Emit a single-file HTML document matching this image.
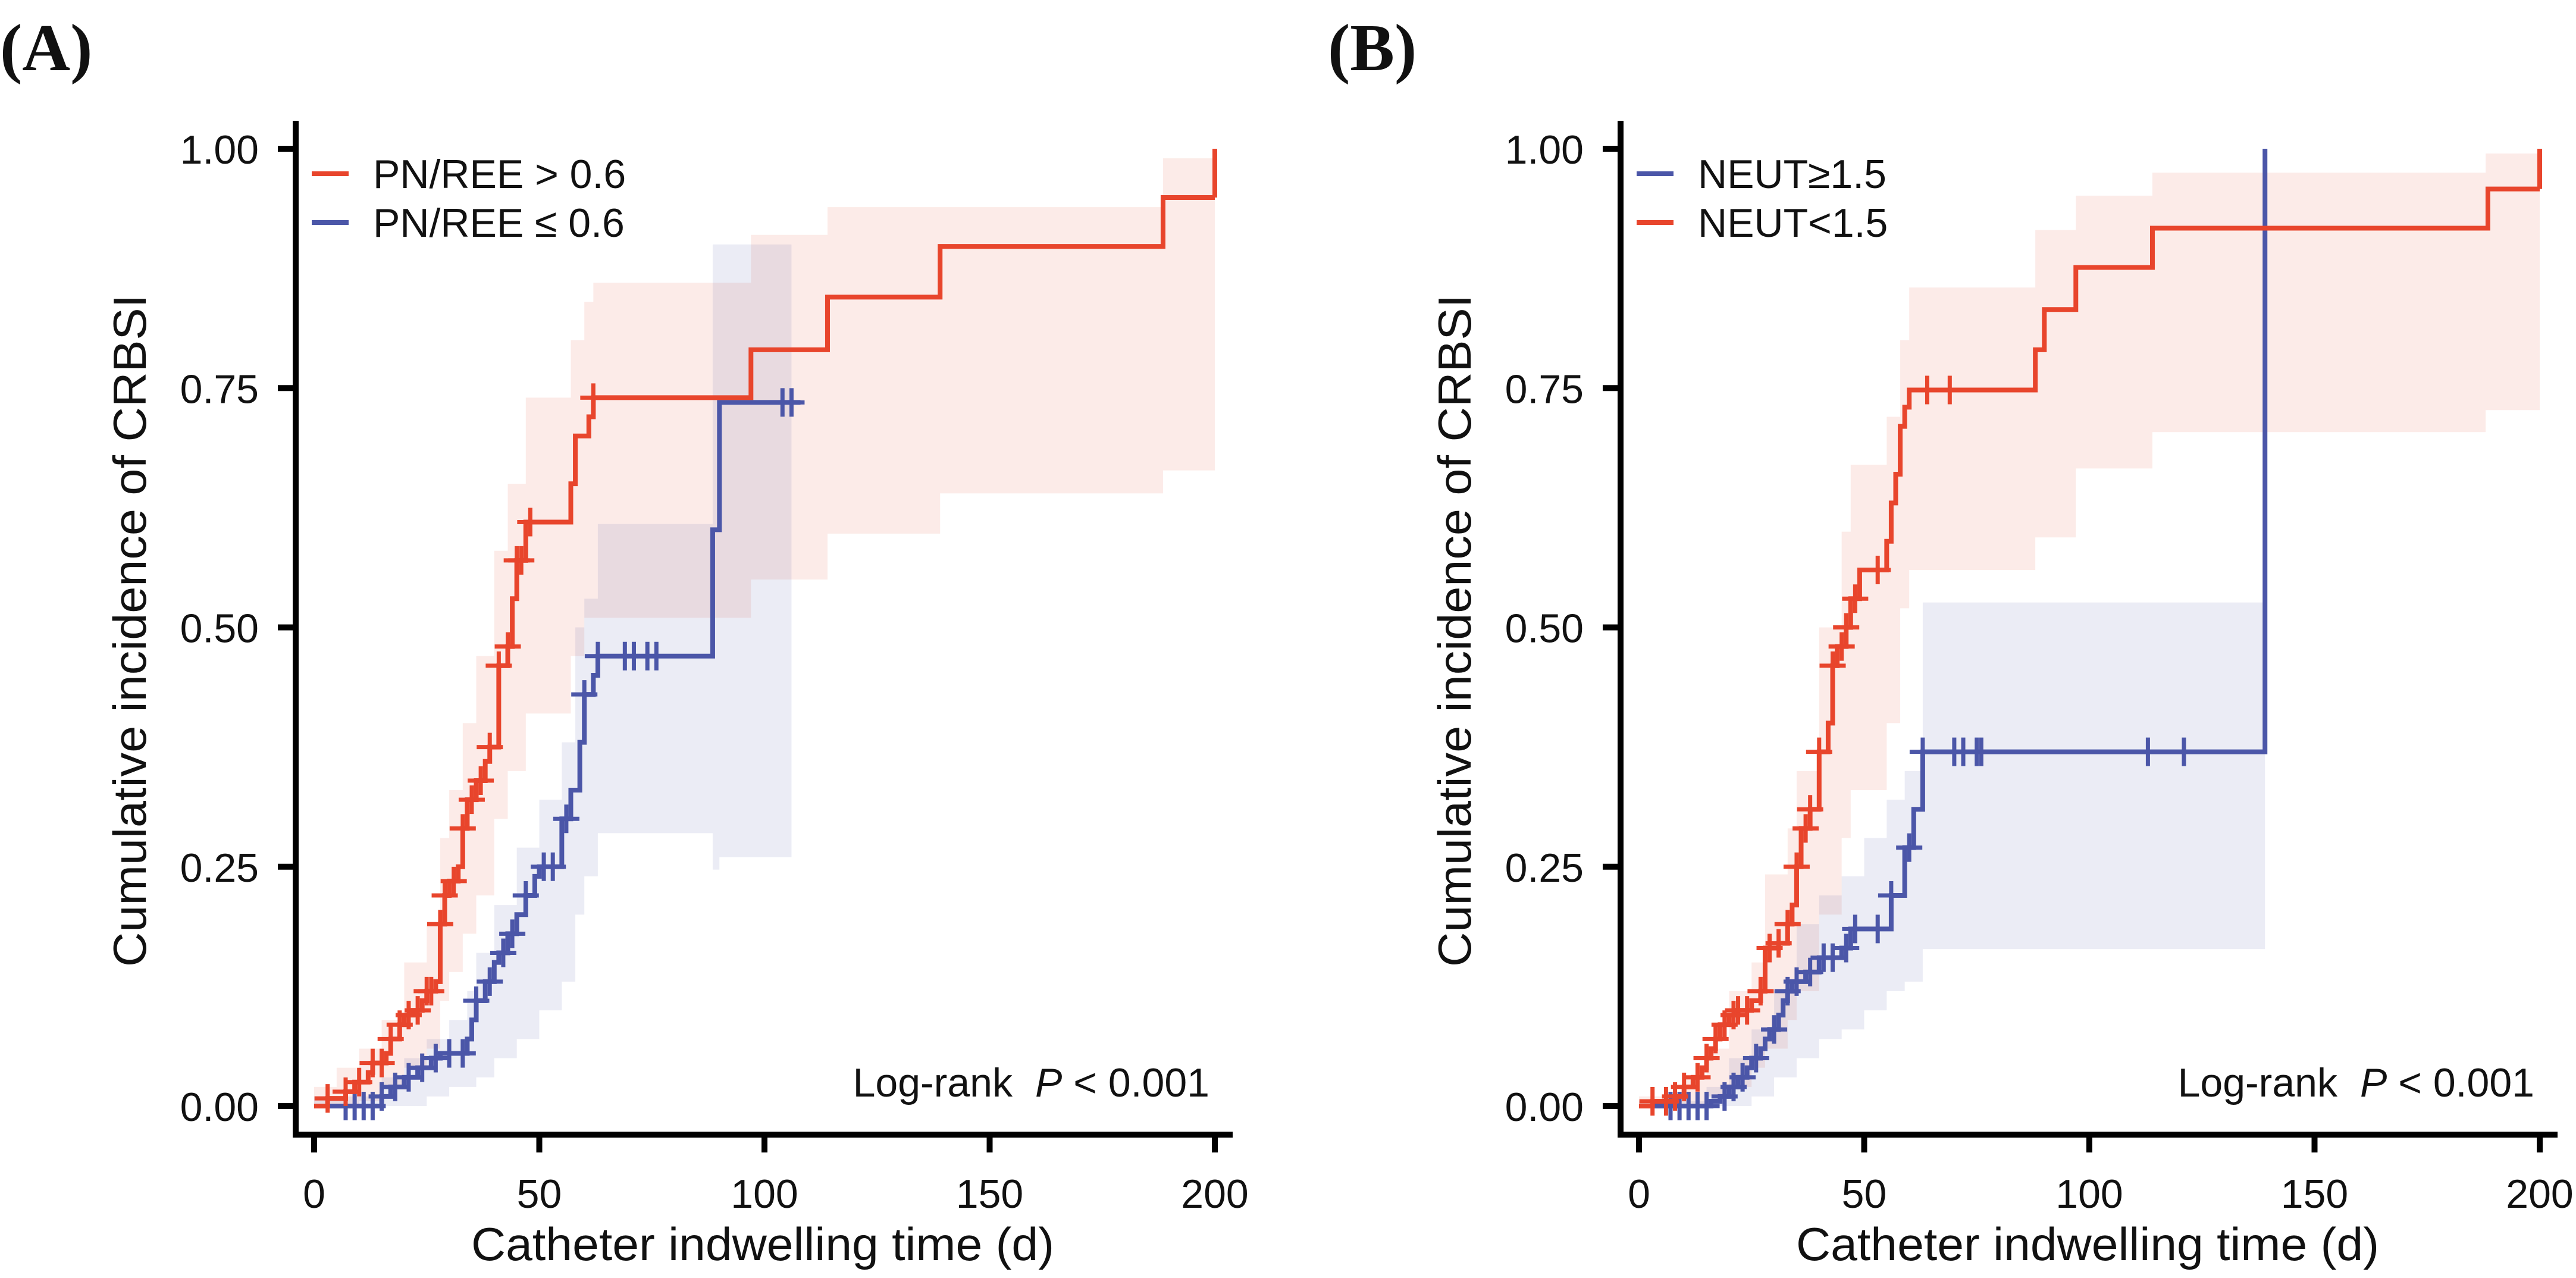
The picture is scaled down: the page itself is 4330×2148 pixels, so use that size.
<!DOCTYPE html>
<html><head><meta charset="utf-8">
<style>
html,body{margin:0;padding:0;background:#fff;}
svg{display:block;}
text{font-family:"Liberation Sans",Arial,sans-serif;fill:#111;}
</style></head>
<body>
<svg id="chart" width="4330" height="2148" viewBox="0 0 4330 2148" xmlns="http://www.w3.org/2000/svg">
<rect width="4330" height="2148" fill="#fff"/>
</svg>
<script>
// ---------- shared axis data ----------
const xTicks = [0, 50, 100, 150, 200];
const yTicks = [0, 0.25, 0.5, 0.75, 1.0];
const yTickLabels = ["0.00", "0.25", "0.50", "0.75", "1.00"];

// ---------- Panel A: PN/REE > 0.6 (red) ----------
const aRedDays = [0,3,7,9,12,13,16,17,19,20,22,24,25,27,28,29,30,32,33,34,36,38,39,41,43,44,45,47,57,58,61,62,97,114,139,188.5];
const aRedVals = [0,0.008,0.015,0.025,0.035,0.045,0.055,0.07,0.085,0.095,0.10,0.11,0.12,0.13,0.19,0.22,0.235,0.25,0.29,0.32,0.34,0.36,0.375,0.46,0.48,0.53,0.57,0.61,0.65,0.70,0.72,0.74,0.79,0.845,0.898,0.949];
const aRedEnd = 200;
const aRedCensorDays = [3,7,10,13,15,17,19,21,23,25,26,28,29,31,33,35,37,39,41,43,45,46,48,62];
const aRedBandDays = [0,5,10,15,20,25,28,30,33,36,40,43,47,57,60,62,97,114,139,188.5];
const aRedBandLo = [0,0,0.005,0.02,0.04,0.06,0.11,0.14,0.18,0.22,0.30,0.35,0.41,0.47,0.51,0.51,0.55,0.598,0.64,0.664];
const aRedBandHi = [0.02,0.04,0.06,0.09,0.15,0.19,0.28,0.33,0.40,0.47,0.58,0.65,0.74,0.80,0.84,0.86,0.91,0.939,0.939,0.99];

// ---------- Panel A: PN/REE <= 0.6 (blue) ----------
const aBlueDays = [0,15,17,20,23,26,28,34,35,36,38,40,41,43,45,47,49,50,55,57,59,60,62,63,88.5,90];
const aBlueVals = [0,0.01,0.02,0.03,0.04,0.05,0.055,0.07,0.09,0.11,0.13,0.15,0.16,0.18,0.20,0.22,0.24,0.25,0.30,0.33,0.38,0.43,0.45,0.47,0.602,0.735];
const aBlueEnd = 108;
const aBlueCensorDays = [7,9,11,13,15,18,21,24,27,30,33,36,39,42,44,47,51,53,56,60,63,69,71,74,76,104,106];
const aBlueBandDays = [0,15,20,25,30,34,36,40,45,50,55,58,60,63,88.5,90];
const aBlueBandLo = [0,0,0,0.01,0.02,0.02,0.03,0.05,0.07,0.10,0.13,0.20,0.24,0.285,0.247,0.26];
const aBlueBandHi = [0.01,0.03,0.05,0.07,0.09,0.12,0.16,0.21,0.27,0.32,0.38,0.50,0.53,0.608,0.90,0.90];
const aBlueBandEnd = 106;

// ---------- Panel B: NEUT<1.5 (red) ----------
const bRedDays = [0,3,8,10,12,14,15,16,17,18,20,22,25,27,28,31,33,34,35,36,38,40,42,43,44,46,47,49,55,56,57,58,59,60,88,90,97,114,188.5];
const bRedVals = [0,0.005,0.01,0.02,0.03,0.04,0.05,0.06,0.07,0.085,0.095,0.10,0.11,0.12,0.165,0.17,0.19,0.21,0.25,0.29,0.31,0.37,0.40,0.46,0.48,0.50,0.53,0.56,0.59,0.63,0.66,0.71,0.73,0.748,0.79,0.832,0.876,0.917,0.958];
const bRedEnd = 200;
const bRedCensorDays = [3,6,8,10,13,15,17,19,21,22,24,27,29,31,33,35,37,38,40,43,45,46,48,53,64,69];
const bRedBandDays = [0,10,15,20,25,28,33,35,40,45,47,55,58,60,88,97,114,188];
const bRedBandLo = [0,0,0.01,0.02,0.04,0.06,0.09,0.12,0.20,0.28,0.33,0.40,0.52,0.56,0.594,0.666,0.704,0.727];
const bRedBandHi = [0.01,0.03,0.06,0.12,0.15,0.242,0.29,0.35,0.50,0.60,0.67,0.72,0.80,0.855,0.915,0.951,0.975,0.995];

// ---------- Panel B: NEUT>=1.5 (blue) ----------
const bBlueDays = [0,16,18,20,22,24,25,27,28,29,31,32,33,34,37,40,45,47,56,59,61,63,139];
const bBlueVals = [0,0.005,0.01,0.02,0.03,0.04,0.05,0.06,0.07,0.08,0.095,0.11,0.12,0.13,0.14,0.155,0.165,0.185,0.22,0.27,0.31,0.37,1.0];
const bBlueEnd = 139;
const bBlueCensorDays = [7,9,11,13,15,19,21,23,26,30,33,35,38,41,43,46,48,53,56,60,63,70,72,75,76,113,121];
const bBlueBandDays = [0,15,20,25,30,35,40,45,50,55,59,63];
const bBlueBandLo = [0,0,0,0.01,0.03,0.05,0.07,0.08,0.10,0.12,0.13,0.164];
const bBlueBandHi = [0.005,0.02,0.05,0.08,0.12,0.19,0.22,0.24,0.28,0.32,0.35,0.526];
const bBlueBandEnd = 139;

// ---------- layout ----------
const NS = "http://www.w3.org/2000/svg";
const svg = document.getElementById("chart");
const RED = "#e8452c", BLUE = "#4b56a8";
function mk(tag, attrs, parent) {
  const e = document.createElementNS(NS, tag);
  for (const k in attrs) e.setAttribute(k, attrs[k]);
  (parent || svg).appendChild(e);
  return e;
}

function stepVal(days, vals, d) {
  let v = vals[0];
  for (let i = 0; i < days.length; i++) if (days[i] <= d) v = vals[i];
  return v;
}

function drawPanel(off, cfg) {
  const X = d => off + 528 + d * (2042 - 528) / 200;
  const Y = v => 1859 - v * 1609;
  const g = mk("g", {});
  
  

  cfg.bands.forEach(b => {
    let up = "", lo = [];
    for (let i = 0; i < b.days.length; i++) {
      const x1 = X(b.days[i]);
      const x2 = X(i + 1 < b.days.length ? b.days[i + 1] : b.end);
      up += (i === 0 ? "M" : "L") + x1 + "," + Y(b.hi[i]) + " L" + x2 + "," + Y(b.hi[i]) + " ";
      lo.unshift("L" + x2 + "," + Y(b.lo[i]) + " L" + x1 + "," + Y(b.lo[i]));
    }
    const p = mk("path", {d: up + lo.join(" ") + " Z", fill: b.color, "fill-opacity": 0.11, stroke: "none"}, g);
    
    
  });

  cfg.lines.forEach(s => {
    let d = "M" + X(s.days[0]) + "," + Y(s.vals[0]);
    for (let i = 1; i < s.days.length; i++) d += " H" + X(s.days[i]) + " V" + Y(s.vals[i]);
    d += " H" + X(s.end);
    const p = mk("path", {d: d, fill: "none", stroke: s.color, "stroke-width": 8}, g);
    
    
    s.cens.forEach(cd => {
      const cx = X(cd), cy = Y(stepVal(s.days, s.vals, cd));
      const c = mk("path", {d: `M${cx-22},${cy} H${cx+22} M${cx},${cy-24} V${cy+24}`, stroke: s.color, "stroke-width": 7}, g);
      
      
    });
  });

  const ax = mk("path", {d: `M${off+497},203 V1907 H${off+2072}`, fill: "none", stroke: "#000", "stroke-width": 10}, g);
  
  
  xTicks.forEach(t => {
    const tk = mk("line", {x1: X(t), x2: X(t), y1: 1907, y2: 1937, stroke: "#000", "stroke-width": 10}, g);
    
    
    const tl = mk("text", {x: X(t), y: 2030, "font-size": 68, "text-anchor": "middle"}, g);
    tl.textContent = t;
    
    
  });
  yTicks.forEach((t, i) => {
    const tk = mk("line", {x1: off + 467, x2: off + 497, y1: Y(t), y2: Y(t), stroke: "#000", "stroke-width": 10}, g);
    
    
    const tl = mk("text", {x: off + 435, y: Y(t) + 25, "font-size": 68, "text-anchor": "end"}, g);
    tl.textContent = yTickLabels[i];
    
    
  });

  const yt = mk("text", {x: 0, y: 0, "font-size": 78, "text-anchor": "middle", transform: `translate(${off+245},1060) rotate(-90)`, textLength: 1130, lengthAdjust: "spacingAndGlyphs"}, g);
  yt.textContent = "Cumulative incidence of CRBSI";
  
  
  const xt = mk("text", {x: off + 1282, y: 2118, "font-size": 78, "text-anchor": "middle", textLength: 980, lengthAdjust: "spacingAndGlyphs"}, g);
  xt.textContent = "Catheter indwelling time (d)";
  
  

  cfg.legend.forEach((l, i) => {
    const ly = 292 + i * 82;
    const ll = mk("line", {x1: off + 524, x2: off + 586, y1: ly, y2: ly, stroke: l.color, "stroke-width": 8}, g);
    
    
    const lt = mk("text", {x: off + 627, y: ly + 24, "font-size": 68}, g);
    lt.textContent = l.label;
    
    
  });

  const lr = mk("text", {x: off + 2033, y: 1843, "font-size": 68, "text-anchor": "end"}, g);
  
  
  const t1 = mk("tspan", {}, lr); t1.textContent = "Log-rank";
  const t2 = mk("tspan", {"font-style": "italic", dx: 38}, lr); t2.textContent = "P";
  const t3 = mk("tspan", {}, lr); t3.textContent = " < 0.001";

  const pl = mk("text", {x: cfg.labelX, y: 118, "font-size": 112, "font-weight": "bold", style: "font-family:'Liberation Serif',serif"}, g);
  pl.textContent = cfg.label;
  
  
}

drawPanel(0, {
  name: "panel-a", label: "(A)", labelX: 0,
  bands: [
    {days: aRedBandDays, lo: aRedBandLo, hi: aRedBandHi, end: aRedEnd, color: RED, nm: "ci-band-pnree-high"},
    {days: aBlueBandDays, lo: aBlueBandLo, hi: aBlueBandHi, end: aBlueBandEnd, color: BLUE, nm: "ci-band-pnree-low"}
  ],
  lines: [
    {days: aBlueDays, vals: aBlueVals, end: aBlueEnd, cens: aBlueCensorDays, color: BLUE, nm: "curve-pnree-low"},
    {days: aRedDays, vals: aRedVals, end: aRedEnd, cens: aRedCensorDays, color: RED, nm: "curve-pnree-high"}
  ],
  legend: [{label: "PN/REE > 0.6", color: RED}, {label: "PN/REE \u2264 0.6", color: BLUE}]
});
drawPanel(2227, {
  name: "panel-b", label: "(B)", labelX: 2232,
  bands: [
    {days: bRedBandDays, lo: bRedBandLo, hi: bRedBandHi, end: bRedEnd, color: RED, nm: "ci-band-neut-low"},
    {days: bBlueBandDays, lo: bBlueBandLo, hi: bBlueBandHi, end: bBlueBandEnd, color: BLUE, nm: "ci-band-neut-high"}
  ],
  lines: [
    {days: bBlueDays, vals: bBlueVals, end: bBlueEnd, cens: bBlueCensorDays, color: BLUE, nm: "curve-neut-high"},
    {days: bRedDays, vals: bRedVals, end: bRedEnd, cens: bRedCensorDays, color: RED, nm: "curve-neut-low"}
  ],
  legend: [{label: "NEUT\u22651.5", color: BLUE}, {label: "NEUT<1.5", color: RED}]
});
[[0, aRedVals], [2227, bRedVals]].forEach(([off, vals]) => {
  const X = d => off + 528 + d * (2042 - 528) / 200;
  const Y = v => 1859 - v * 1609;
  const j = mk("line", {x1: X(aRedEnd), x2: X(aRedEnd), y1: Y(vals[vals.length - 1]), y2: Y(1.0), stroke: RED, "stroke-width": 8});
  
  
});
</script>
</body></html>
